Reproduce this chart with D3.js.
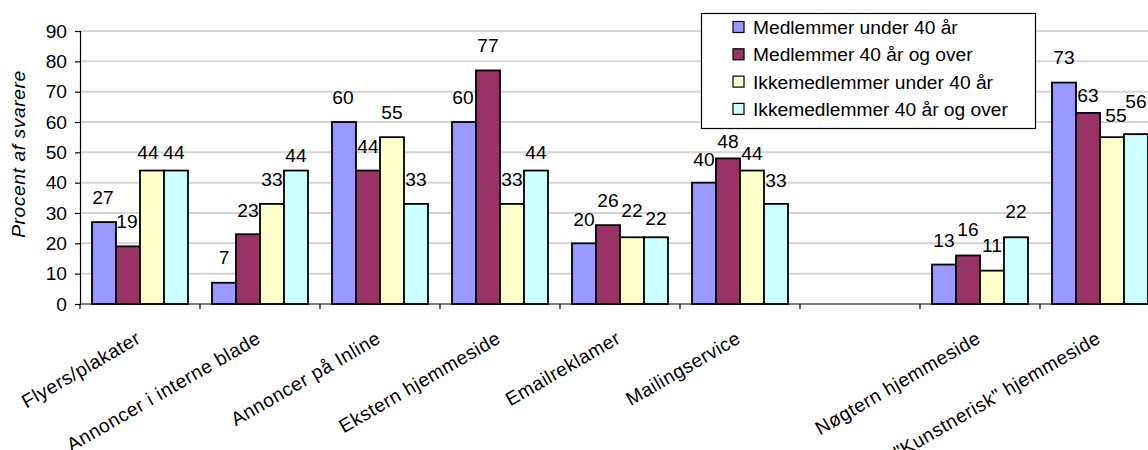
<!DOCTYPE html>
<html>
<head>
<meta charset="utf-8">
<script src="https://cdn.jsdelivr.net/npm/d3@7"></script>
<style>
  html, body { margin: 0; padding: 0; background: #fff; }
  svg { display: block; font-family: "Liberation Sans", Arial, sans-serif; }
</style>
</head>
<body>
<svg id="chart" width="1148" height="450"></svg>
<script>
// Channels used to reach respondents
const categories = [
  "Flyers/plakater",
  "Annoncer i interne blade",
  "Annoncer på Inline",
  "Ekstern hjemmeside",
  "Emailreklamer",
  "Mailingservice",
  "",
  "Nøgtern hjemmeside",
  "\"Kunstnerisk\" hjemmeside"
];

const seriesNames = [
  "Medlemmer under 40 år",
  "Medlemmer 40 år og over",
  "Ikkemedlemmer under 40 år",
  "Ikkemedlemmer 40 år og over"
];

// Percent of respondents per group (null = no bar)
const medlemmerUnder40   = [27,  7, 60, 60, 20, 40, null, 13, 73];
const medlemmer40Over    = [19, 23, 44, 77, 26, 48, null, 16, 63];
const ikkemedlemUnder40  = [44, 33, 55, 33, 22, 44, null, 11, 55];
const ikkemedlem40Over   = [44, 44, 33, 44, 22, 33, null, 22, 56];

const yTicks = [0, 10, 20, 30, 40, 50, 60, 70, 80, 90];
const yTitle = "Procent af svarere";

const seriesValues = [medlemmerUnder40, medlemmer40Over, ikkemedlemUnder40, ikkemedlem40Over];
const colors = ["#9999ff", "#993366", "#ffffcc", "#ccffff"];

// Hand-placed value labels: vertical gap (px) between the label baseline
// and the top of its bar, plus a small sideways shift where labels crowd.
const labelGap = [
  [18, 18, 12, 12],
  [19, 17, 18, 9],
  [18, 18, 18, 18],
  [18, 18, 18, 12],
  [17, 18, 20, 12],
  [17, 10, 11, 17],
  [18, 18, 18, 18],
  [18, 19, 19, 19],
  [19, 11, 15, 26]
];
const labelShift = [
  [-1, -1, -4, -2],
  [0, 0, 0, 0],
  [-1, 0, 0, 0],
  [-1, 0, 0, 0],
  [0, 0, 0, 0],
  [0, 0, 0, 0],
  [0, 0, 0, 0],
  [0, 0, 0, 0],
  [0, 0, 4, 0]
];

const svg = d3.select("#chart");
const plot = { left: 80, right: 1160, top: 31, bottom: 304 };
const fontSize = 19.2;

const x = d3.scaleBand().domain(d3.range(categories.length))
  .range([plot.left, plot.right]).paddingInner(0).paddingOuter(0);
const xs = d3.scaleBand().domain(d3.range(seriesNames.length))
  .range([x.bandwidth() * 0.1, x.bandwidth() * 0.9]).padding(0);
const y = d3.scaleLinear().domain([0, 90]).range([plot.bottom, plot.top]);

// Horizontal gridlines
svg.append("g").selectAll("line")
  .data(yTicks.filter(t => t > 0))
  .join("line")
  .attr("x1", plot.left).attr("x2", plot.right)
  .attr("y1", d => y(d)).attr("y2", d => y(d))
  .attr("stroke", "#d6d6d6").attr("stroke-width", 2);

// Bars
const rows = [];
categories.forEach((c, ci) => {
  seriesValues.forEach((vals, si) => {
    if (vals[ci] != null) rows.push({ ci, si, v: vals[ci] });
  });
});

svg.append("g").selectAll("rect")
  .data(rows)
  .join("rect")
  .attr("x", d => x(d.ci) + xs(d.si))
  .attr("y", d => y(d.v))
  .attr("width", xs.bandwidth())
  .attr("height", d => y(0) - y(d.v))
  .attr("fill", d => colors[d.si])
  .attr("stroke", "#000")
  .attr("stroke-width", 1.8);

// Value labels
svg.append("g").selectAll("text")
  .data(rows)
  .join("text")
  .attr("x", d => x(d.ci) + xs(d.si) + xs.bandwidth() / 2 + labelShift[d.ci][d.si])
  .attr("y", d => y(d.v) - labelGap[d.ci][d.si])
  .attr("text-anchor", "middle")
  .attr("font-size", fontSize)
  .attr("fill", "#000")
  .text(d => d.v);

// Y axis
const yAxis = svg.append("g")
  .attr("transform", `translate(${plot.left},0)`)
  .call(d3.axisLeft(y).tickValues(yTicks).tickSize(5).tickPadding(8));
yAxis.select(".domain").attr("stroke", "#000").attr("stroke-width", 1.2);
yAxis.selectAll(".tick line").attr("stroke", "#000").attr("stroke-width", 1.2);
yAxis.selectAll(".tick text")
  .attr("font-size", fontSize)
  .attr("font-family", "Liberation Sans, Arial, sans-serif")
  .attr("fill", "#000");

// X axis line and category boundary ticks
svg.append("line")
  .attr("x1", plot.left).attr("x2", plot.right)
  .attr("y1", y(0)).attr("y2", y(0))
  .attr("stroke", "#000").attr("stroke-width", 1.2);
svg.append("g").selectAll("line")
  .data(d3.range(categories.length + 1))
  .join("line")
  .attr("x1", i => i < categories.length ? x(i) : plot.right)
  .attr("x2", i => i < categories.length ? x(i) : plot.right)
  .attr("y1", y(0)).attr("y2", y(0) + 5)
  .attr("stroke", "#000").attr("stroke-width", 1.2);

// Rotated category labels
svg.append("g").selectAll("text")
  .data(categories.map((c, i) => ({ c, i })).filter(d => d.c !== ""))
  .join("text")
  .attr("transform", d => `translate(${x(d.i) + x.bandwidth() / 2 + 2},342) rotate(-30)`)
  .attr("text-anchor", "end")
  .attr("font-size", fontSize)
  .attr("letter-spacing", 0.5)
  .attr("fill", "#000")
  .text(d => d.c);

// Y axis title
svg.append("text")
  .attr("transform", "translate(25,154) rotate(-90)")
  .attr("text-anchor", "middle")
  .attr("font-size", fontSize)
  .attr("font-style", "italic")
  .attr("letter-spacing", 0.6)
  .attr("fill", "#000")
  .text(yTitle);

// Legend
const legend = svg.append("g").attr("transform", "translate(701,13)");
legend.append("rect")
  .attr("x", 0.5).attr("y", 0.5)
  .attr("width", 334).attr("height", 115)
  .attr("fill", "#fff").attr("stroke", "#000").attr("stroke-width", 1.2);
const items = legend.selectAll("g.item")
  .data(seriesNames)
  .join("g")
  .attr("class", "item")
  .attr("transform", (d, i) => `translate(0,${14 + i * 27.3})`);
items.append("rect")
  .attr("x", 32).attr("y", -5.5)
  .attr("width", 11).attr("height", 11)
  .attr("fill", (d, i) => colors[i])
  .attr("stroke", "#000").attr("stroke-width", 1.2);
items.append("text")
  .attr("x", 52).attr("y", 7)
  .attr("font-size", fontSize)
  .attr("fill", "#000")
  .text(d => d);
</script>
</body>
</html>
